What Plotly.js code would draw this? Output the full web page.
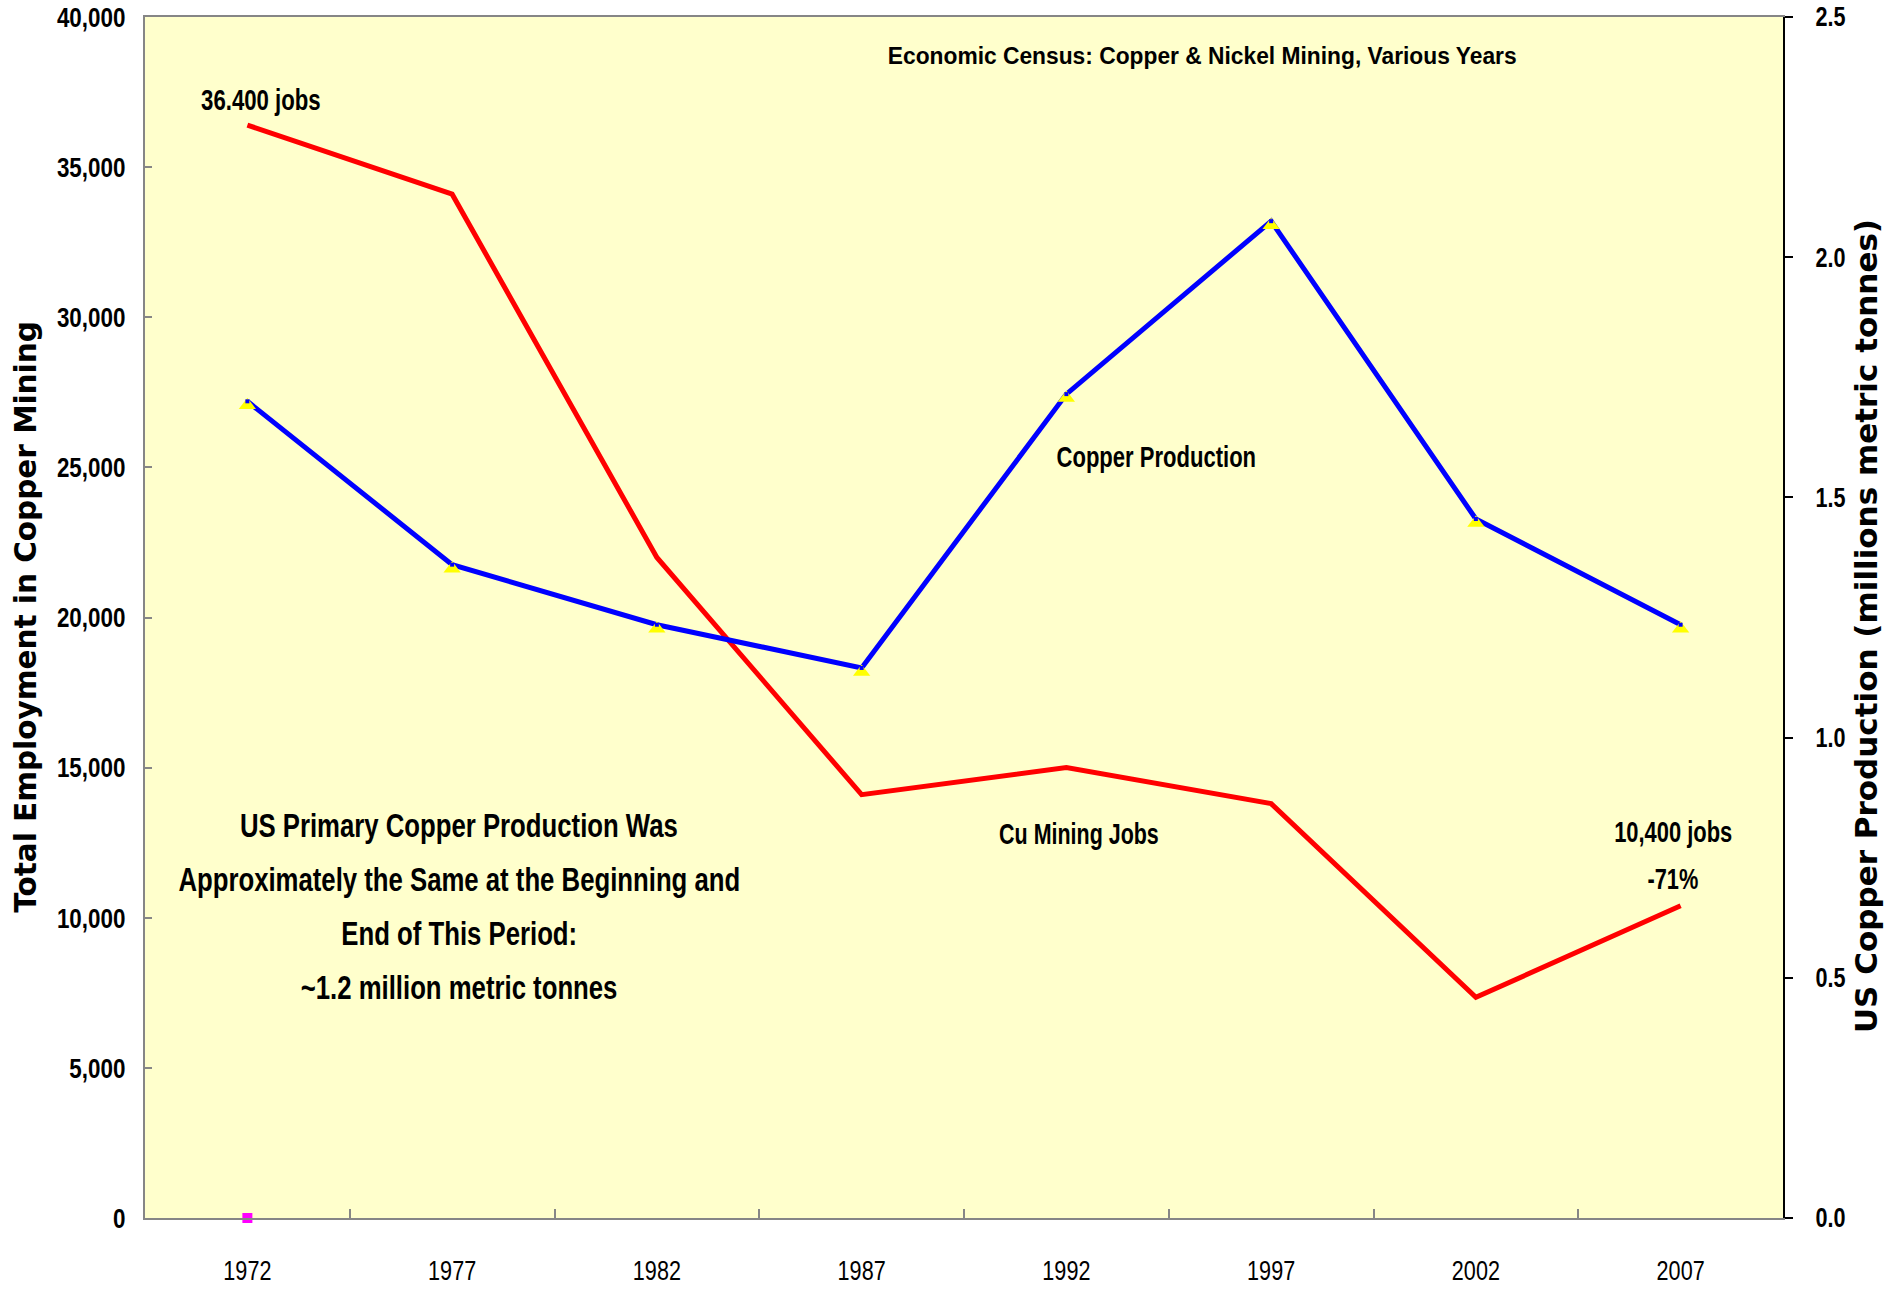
<!DOCTYPE html>
<html>
<head>
<meta charset="utf-8">
<script src="https://cdn.plot.ly/plotly-3.0.1.min.js"></script>
<style>
  html, body { margin: 0; padding: 0; background: #ffffff; }
  #chart { width: 1885px; height: 1289px; }
</style>
</head>
<body>
<div id="chart"></div>
<script>
// ---- Data ----
const years = [1972, 1977, 1982, 1987, 1992, 1997, 2002, 2007];
const miningJobs = [36400, 34100, 22000, 14100, 15000, 13800, 7350, 10400];
const copperProduction = [1.70, 1.36, 1.235, 1.145, 1.715, 2.075, 1.455, 1.235];
const markerYear = [1972];
const markerValue = [0];
const yearLabels = ['1972', '1977', '1982', '1987', '1992', '1997', '2002', '2007'];
const categoryBoundaries = [1974.5, 1979.5, 1984.5, 1989.5, 1994.5, 1999.5, 2004.5];
const noteLines = [
  'US Primary Copper Production Was',
  'Approximately the Same at the Beginning and',
  'End of This Period:',
  '~1.2 million metric tonnes'
];

const sans = '"Liberation Sans", Arial, sans-serif';
const wide = '"DejaVu Sans", Verdana, sans-serif';

const traces = [
  {
    x: years, y: miningJobs, type: 'scatter', mode: 'lines',
    name: 'Cu Mining Jobs', yaxis: 'y',
    line: { color: '#ff0000', width: 5 }
  },
  {
    x: years, y: copperProduction, type: 'scatter', mode: 'lines',
    name: 'Copper Production', yaxis: 'y2',
    line: { color: '#0000ff', width: 5 }
  },
  {
    x: years, y: copperProduction, type: 'scatter', mode: 'markers',
    name: 'Copper Production markers', yaxis: 'y2',
    marker: { symbol: 'triangle-up', size: 15, color: '#ffff00', standoff: 4 }
  },
  {
    x: years, y: copperProduction, type: 'scatter', mode: 'markers',
    name: 'Copper Production points', yaxis: 'y2',
    marker: { symbol: 'square', size: 4, color: '#0000ff' }
  },
  {
    x: markerYear, y: markerValue, type: 'scatter', mode: 'markers',
    name: 'marker', yaxis: 'y', cliponaxis: false,
    marker: { symbol: 'square', size: 10, color: '#ff00ff' }
  }
];

const annFont = (size, bold) => ({ family: sans, size: size, color: '#000000', weight: bold ? 'bold' : 'normal' });

const annotations = [
  { xref: 'x', yref: 'y', x: 1995.31, y: 38725, text: 'Economic Census: Copper &amp; Nickel Mining, Various Years',
    font: annFont(24, true), _sx: 0.95 },
  { xref: 'x', yref: 'y', x: 1972.33, y: 37240, text: '36.400 jobs',
    font: annFont(30, true), _sx: 0.74 },
  { xref: 'x', yref: 'y', x: 1994.2, y: 25340, text: 'Copper Production',
    font: annFont(29, true), _sx: 0.76 },
  { xref: 'x', yref: 'y', x: 1992.31, y: 12800, text: 'Cu Mining Jobs',
    font: annFont(29, true), _sx: 0.74 },
  { xref: 'x', yref: 'y', x: 2006.81, y: 12850, text: '10,400 jobs',
    font: annFont(29, true), _sx: 0.755 },
  { xref: 'x', yref: 'y', x: 2006.81, y: 11280, text: '-71%',
    font: annFont(29, true), _sx: 0.75 }
];
noteLines.forEach((line, i) => {
  annotations.push({ xref: 'x', yref: 'paper', x: 1977.17, y: 0.3272 - i * 0.0452, text: line,
    font: annFont(33, true), _sx: 0.78 });
});
const annSx = annotations.map(a => a._sx);
annotations.forEach(a => {
  delete a._sx;
  a.showarrow = false;
  a.xanchor = 'center';
  a.yanchor = 'middle';
});

const layout = {
  width: 1885, height: 1289,
  margin: { l: 145, r: 102, t: 17, b: 71 },
  paper_bgcolor: '#ffffff',
  plot_bgcolor: '#ffffcc',
  showlegend: false,
  xaxis: {
    range: [1969.5, 2009.5],
    tickmode: 'array', tickvals: years, ticktext: yearLabels,
    ticks: 'outside', ticklen: 28, tickcolor: 'rgba(0,0,0,0)',
    tickfont: { family: sans, size: 27, color: '#000000' },
    showgrid: false, zeroline: false,
    showline: true, mirror: true, linecolor: '#868686', linewidth: 2,
    minor: { tickmode: 'array', tickvals: categoryBoundaries, ticks: 'inside', ticklen: 9, tickcolor: '#868686', tickwidth: 2, showgrid: false }
  },
  yaxis: {
    range: [0, 40000], dtick: 5000, tickformat: ',',
    ticks: 'inside', ticklen: 7, tickcolor: '#868686', tickwidth: 2,
    ticklabelstandoff: 12,
    tickfont: { family: sans, size: 28, color: '#000000', weight: 'bold' },
    showgrid: false, zeroline: false,
    showline: true, linecolor: '#868686', linewidth: 2,
    title: { text: 'Total Employment in Copper Mining', font: { family: wide, size: 29.5, color: '#000000', weight: 'bold' }, standoff: 10 }
  },
  yaxis2: {
    overlaying: 'y', side: 'right', anchor: 'x',
    range: [0, 2.5], dtick: 0.5, tickformat: '.1f',
    ticks: 'outside', ticklen: 8, tickcolor: '#000000', tickwidth: 2,
    ticklabelstandoff: 17,
    tickfont: { family: sans, size: 27, color: '#000000', weight: 'bold' },
    showgrid: false, zeroline: false,
    showline: true, linecolor: '#000000', linewidth: 2,
    title: { text: 'US Copper Production (millions metric tonnes)', font: { family: wide, size: 31, color: '#000000', weight: 'bold' }, standoff: 10 }
  },
  yaxis3: {
    overlaying: 'y', side: 'right', anchor: 'x',
    range: [0, 2.5], dtick: 0.5,
    ticks: 'inside', ticklen: 8, tickcolor: '#000000', tickwidth: 2,
    showticklabels: false, showgrid: false, zeroline: false, showline: false
  },
  annotations: annotations
};

function condense(el, sx) {
  if (!el || el.getAttribute('data-cond')) return;
  const x = parseFloat(el.getAttribute('x')) || 0;
  const y = parseFloat(el.getAttribute('y')) || 0;
  const t = el.getAttribute('transform') || '';
  el.setAttribute('transform', (t + ' translate(' + x + ',' + y + ') scale(' + sx + ',1) translate(' + (-x) + ',' + (-y) + ')').trim());
  el.setAttribute('data-cond', '1');
}

function moveCenter(gd, el, cx, cy) {
  if (!el || el.getAttribute('data-moved')) return;
  const r = el.getBoundingClientRect();
  const gr = gd.getBoundingClientRect();
  const dx = cx - (r.left + r.width / 2 - gr.left);
  const dy = cy - (r.top + r.height / 2 - gr.top);
  el.setAttribute('transform', ('translate(' + dx + ',' + dy + ') ' + (el.getAttribute('transform') || '')).trim());
  el.setAttribute('data-moved', '1');
}

Plotly.newPlot('chart', traces, layout, { displayModeBar: false, staticPlot: true }).then(gd => {
  gd.querySelectorAll('g.ytick text').forEach(el => condense(el, 0.8));
  gd.querySelectorAll('g.y2tick text').forEach(el => condense(el, 0.8));
  gd.querySelectorAll('g.xtick text').forEach(el => condense(el, 0.8));
  gd.querySelectorAll('g.annotation').forEach(g => {
    const idx = parseInt(g.getAttribute('data-index'), 10);
    const el = g.querySelector('text.annotation-text');
    if (!isNaN(idx) && annSx[idx]) condense(el, annSx[idx]);
  });
  moveCenter(gd, gd.querySelector('text.ytitle'), 26, 617);
  moveCenter(gd, gd.querySelector('text.y2title'), 1866, 626);
});
</script>
</body>
</html>
